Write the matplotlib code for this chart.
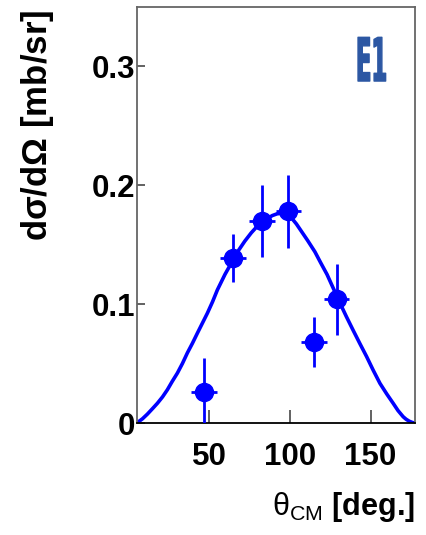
import numpy as np
import matplotlib.pyplot as plt
from matplotlib import patheffects
from matplotlib.transforms import Affine2D

plt.rcParams['mathtext.fontset'] = 'custom'
plt.rcParams['mathtext.rm'] = 'Liberation Sans'
plt.rcParams['mathtext.it'] = 'Liberation Sans:italic'
plt.rcParams['mathtext.bf'] = 'Liberation Sans:bold'

# measured points
theta = [46.7, 64.9, 82.5, 99.1, 115.1, 128.9]
dsig = [0.026, 0.139, 0.170, 0.178, 0.068, 0.104]
dsig_err = [0.029, 0.020, 0.030, 0.031, 0.021, 0.030]
theta_err = [8, 8, 8, 8, 8, 8]

# calculated E1 curve
curve_theta = [5, 8.5, 11.6, 14.7, 17.8, 21, 24, 27, 30.2, 33.3, 36.4, 39.5,
               42.6, 45.7, 48.8, 52, 55, 59.7, 63, 66, 69, 72, 76, 80, 83,
               86, 89, 92, 95, 98, 101, 104, 107, 111, 115.5, 119, 123, 127,
               131, 135, 139.2, 143.3, 147.5, 151.6, 155.8, 160, 164, 167,
               170.2, 172, 174, 176, 177.5]
curve_dsig = [0.0, 0.0035, 0.0075, 0.012, 0.0166, 0.022, 0.028, 0.035, 0.042,
              0.050, 0.059, 0.067, 0.0756, 0.084, 0.0924, 0.102, 0.112, 0.125,
              0.133, 0.141, 0.147, 0.153, 0.160, 0.166, 0.1695, 0.172, 0.1745,
              0.176, 0.1765, 0.175, 0.1725, 0.1675, 0.1615, 0.1535, 0.144,
              0.135, 0.125, 0.113, 0.101, 0.0895, 0.078, 0.067, 0.056, 0.0445,
              0.0334, 0.0245, 0.0166, 0.0105, 0.0053, 0.0032, 0.0015, 0.0004,
              0.0]

blue = '#0000ff'


class Reshape(patheffects.AbstractPathEffect):
    # stretches glyphs around the text anchor (narrow, tall label)
    def __init__(self, sx, sy, lw=0.0):
        super().__init__()
        self.sx, self.sy, self.lw = sx, sy, lw

    def draw_path(self, renderer, gc, tpath, affine, rgbFace=None):
        m = affine.get_matrix()
        x0, y0 = m[0, 2], m[1, 2]
        stretch = Affine2D().translate(-x0, -y0).scale(self.sx, self.sy).translate(x0, y0)
        gc0 = renderer.new_gc()
        gc0.copy_properties(gc)
        if self.lw > 0 and rgbFace is not None:
            gc0.set_foreground(rgbFace)
            gc0.set_linewidth(self.lw)
        else:
            gc0.set_linewidth(0)
        renderer.draw_path(gc0, tpath, affine + stretch, rgbFace)
        gc0.restore()


fig = plt.figure(figsize=(4.26, 5.35), dpi=100)
ax = fig.add_axes([0.321, 0.2093, 0.653, 0.7776])

ax.plot(curve_theta, curve_dsig, color=blue, lw=2.6, zorder=2,
        solid_joinstyle='round')
ax.errorbar(theta, dsig, yerr=dsig_err, xerr=theta_err, fmt='o', color=blue,
            ms=13, elinewidth=2, capsize=0, zorder=3)

ax.set_xlim(5, 177.5)
ax.set_ylim(0, 0.35)
ax.set_xticks([50, 100, 150])
ax.set_yticks([0, 0.1, 0.2, 0.3])
ax.set_yticklabels(['0', '0.1', '0.2', '0.3'])

for lab in ax.get_xticklabels() + ax.get_yticklabels():
    lab.set_fontfamily('Liberation Sans')
    lab.set_fontweight('bold')
    lab.set_fontsize(22.5)

ax.tick_params(axis='x', direction='in', length=9.5, width=1.3, color='#555555', pad=14)
ax.tick_params(axis='y', direction='in', length=6, width=1.3, color='#555555', pad=1)

for s in ['top', 'right', 'left']:
    ax.spines[s].set_color('#666666')
    ax.spines[s].set_linewidth(1.3)
ax.spines['bottom'].set_color('black')
ax.spines['bottom'].set_linewidth(1.3)

ax.text(0.788, 0.822, 'E1', transform=ax.transAxes, ha='left', va='baseline',
        fontsize=24, fontweight='bold', color='#2c57a3', family='DejaVu Sans',
        path_effects=[Reshape(0.68, 1.8, lw=1.0)])

fig.text(0.088, 0.765, r'd$\mathregular{\sigma}$/d$\mathregular{\Omega}$ [mb/sr]',
         rotation=90, ha='center', va='center', fontsize=25, fontweight='bold',
         family='Liberation Sans')

fig.text(0.975, 0.052, r'$\mathrm{\theta_{CM}}$ [deg.]', ha='right', va='center',
         fontsize=22, fontweight='bold', family='Liberation Sans')

fig.savefig('out.png', dpi=100)
